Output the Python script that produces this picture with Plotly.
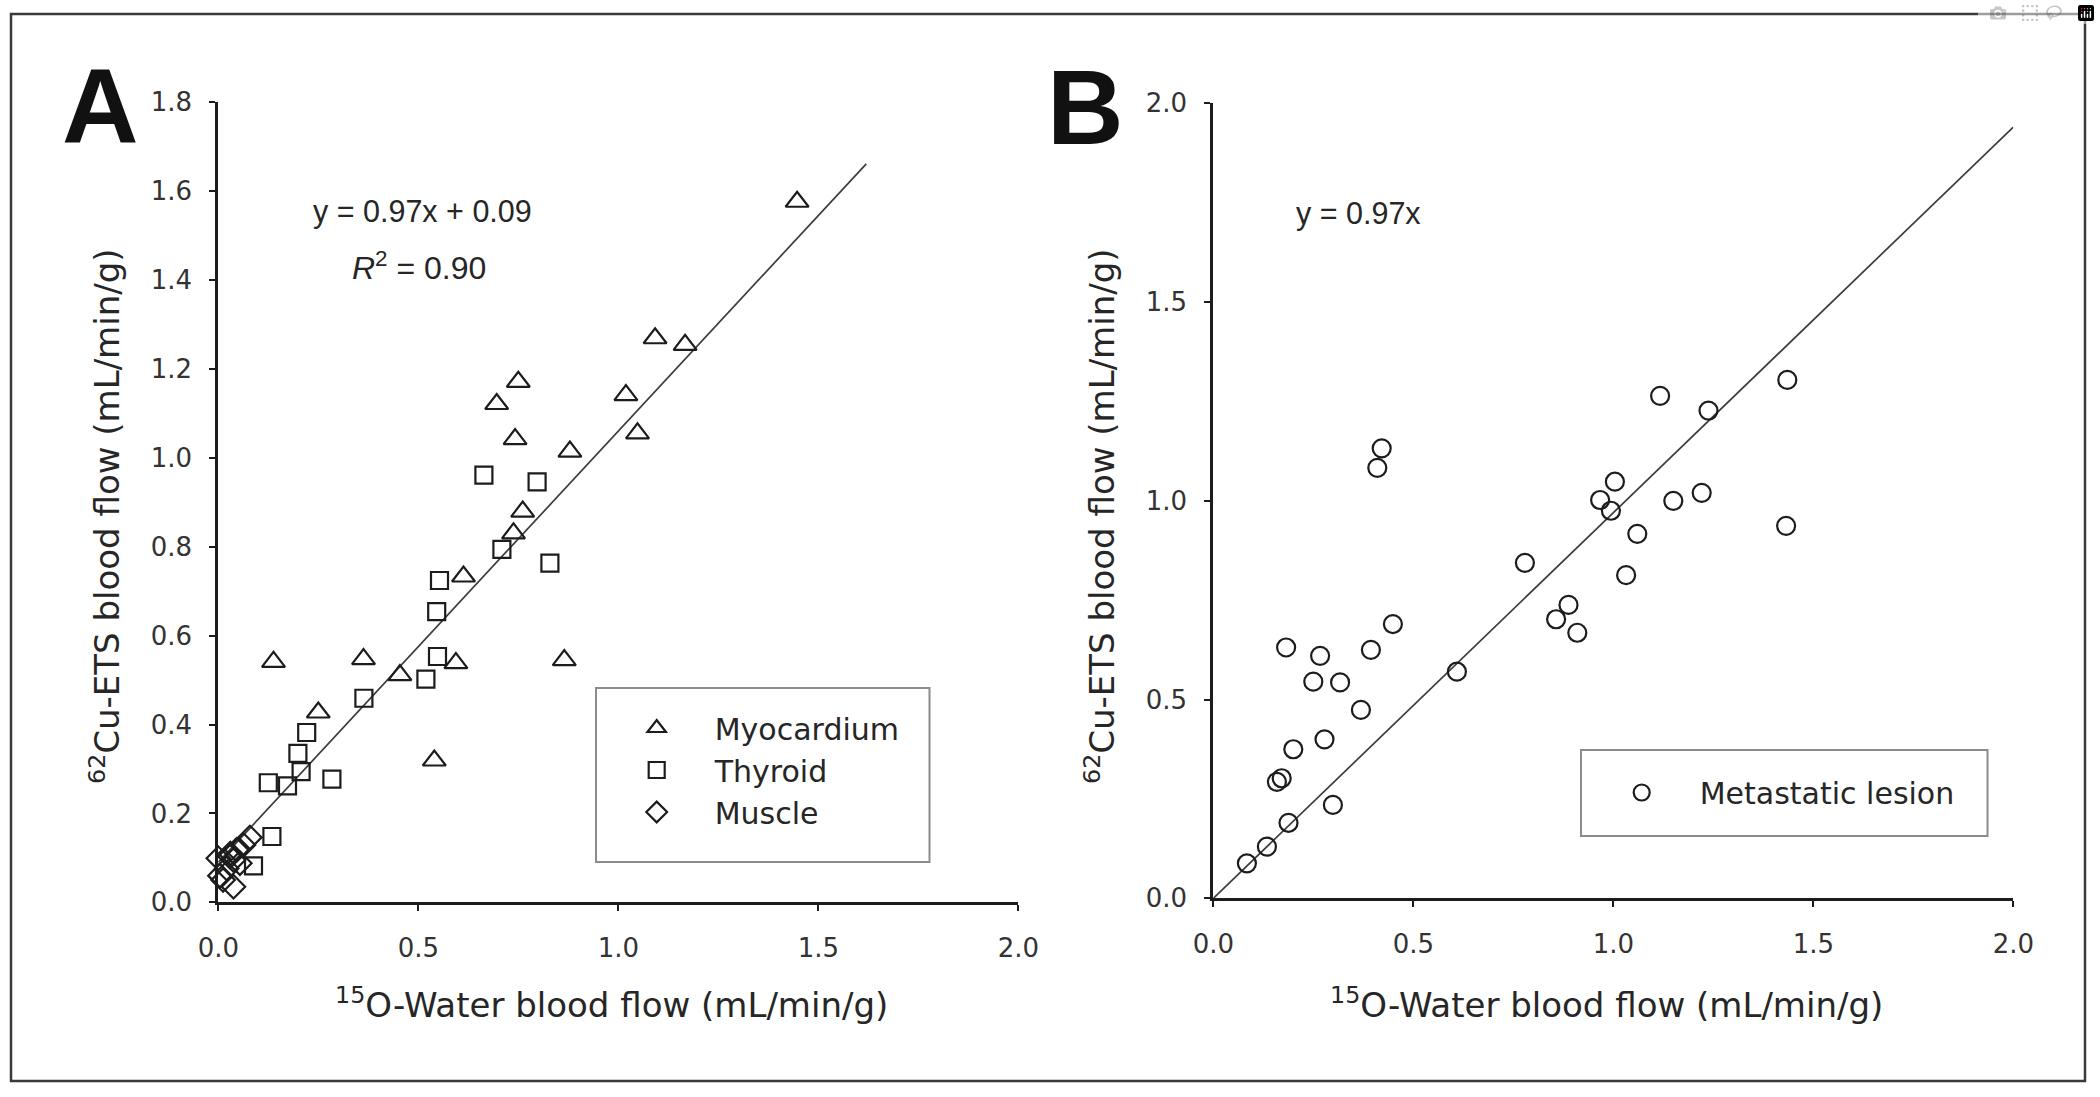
import plotly.graph_objects as go

W, H = 2100, 1097

# ---------------- Data ----------------
# Panel A
myo_x = [1.447, 1.092, 1.167, 0.750, 0.696, 1.019, 0.742, 1.048, 0.879, 0.761,
         0.738, 0.613, 0.138, 0.363, 0.454, 0.594, 0.865, 0.250, 0.540]
myo_y = [1.576, 1.269, 1.254, 1.171, 1.121, 1.141, 1.042, 1.055, 1.014, 0.879,
         0.830, 0.733, 0.541, 0.547, 0.511, 0.538, 0.545, 0.427, 0.319]

thy_x = [0.664, 0.797, 0.709, 0.829, 0.553, 0.546, 0.548, 0.519, 0.364, 0.221,
         0.199, 0.207, 0.125, 0.173, 0.284, 0.134, 0.088]
thy_y = [0.961, 0.946, 0.794, 0.763, 0.724, 0.654, 0.553, 0.502, 0.459, 0.382,
         0.335, 0.294, 0.269, 0.262, 0.277, 0.148, 0.082]

mus_x = [0.000, 0.029, 0.046, 0.063, 0.079, 0.038, 0.004, 0.021, 0.054, 0.038, 0.012, 0.030]
mus_y = [0.099, 0.103, 0.118, 0.129, 0.146, 0.095, 0.060, 0.076, 0.088, 0.035, 0.050, 0.110]

fitA_slope, fitA_intercept = 0.97, 0.09
fitA_x = [0.0, 1.62]

# Panel B
met_x = [0.084, 0.134, 0.188, 0.299, 0.159, 0.171, 0.200, 0.278, 0.369, 0.250,
         0.317, 0.182, 0.267, 0.394, 0.449, 0.609, 0.410, 0.421, 0.779, 0.857,
         0.888, 0.910, 0.967, 0.994, 1.004, 1.032, 1.060, 1.117, 1.150, 1.221,
         1.238, 1.435, 1.432]
met_y = [0.088, 0.130, 0.190, 0.235, 0.293, 0.302, 0.375, 0.400, 0.474, 0.545,
         0.543, 0.631, 0.610, 0.625, 0.690, 0.570, 1.083, 1.132, 0.844, 0.702,
         0.738, 0.668, 1.002, 0.975, 1.048, 0.813, 0.917, 1.264, 1.000, 1.020,
         1.227, 1.304, 0.937]

fitB_slope = 0.97
fitB_x = [0.0, 2.0]

xA_ticks = [0.0, 0.5, 1.0, 1.5, 2.0]
yA_ticks = [0.0, 0.2, 0.4, 0.6, 0.8, 1.0, 1.2, 1.4, 1.6, 1.8]
xB_ticks = [0.0, 0.5, 1.0, 1.5, 2.0]
yB_ticks = [0.0, 0.5, 1.0, 1.5, 2.0]

x_title = "<sup>15</sup>O-Water blood flow (mL/min/g)"
y_title = "<sup>62</sup>Cu-ETS blood flow (mL/min/g)"

# ---------------- Styles ----------------
INK = "#1c1c1c"
TXT = "#262626"
TICK_FONT = dict(family="DejaVu Sans", size=26, color="#333333")
TITLE_FONT = dict(family="DejaVu Sans", size=34, color=TXT)
LEG_FONT = dict(family="DejaVu Sans", size=30, color=TXT)
EQ_FONT = dict(family="Liberation Sans, Arial", size=30.5, color=TXT)
R2_FONT = dict(family="Liberation Sans, Arial", size=32, color=TXT)


def px(x):
    return x / W


def py(y):
    return 1 - y / H


fig = go.Figure()

# regression lines
fig.add_trace(go.Scatter(x=fitA_x, y=[fitA_slope * v + fitA_intercept for v in fitA_x],
                         mode="lines", line=dict(color="#3c3c3c", width=1.7),
                         showlegend=False, hoverinfo="skip", xaxis="x", yaxis="y"))
fig.add_trace(go.Scatter(x=fitB_x, y=[fitB_slope * v for v in fitB_x],
                         mode="lines", line=dict(color="#3c3c3c", width=1.7),
                         showlegend=False, hoverinfo="skip", xaxis="x2", yaxis="y2"))


def mk(symbol, size):
    return dict(symbol=symbol, size=size, color=INK, line=dict(color=INK, width=2.2))


fig.add_trace(go.Scatter(x=myo_x, y=myo_y, mode="markers", name="Myocardium",
                         marker=mk("triangle-up-open", 20), cliponaxis=False,
                         xaxis="x", yaxis="y", legend="legend", legendgroup="a"))
fig.add_trace(go.Scatter(x=thy_x, y=thy_y, mode="markers", name="Thyroid",
                         marker=mk("square-open", 17), cliponaxis=False,
                         xaxis="x", yaxis="y", legend="legend", legendgroup="b"))
fig.add_trace(go.Scatter(x=mus_x, y=mus_y, mode="markers", name="Muscle",
                         marker=mk("diamond-open", 18), cliponaxis=False,
                         xaxis="x", yaxis="y", legend="legend", legendgroup="c"))
fig.add_trace(go.Scatter(x=met_x, y=met_y, mode="markers", name="Metastatic lesion",
                         marker=mk("circle-open", 18), cliponaxis=False,
                         xaxis="x2", yaxis="y2", legend="legend2"))

# axis pixel geometry
A_x0, A_x1, A_y0, A_y1 = 218.3, 1018.3, 902.3, 102.2
B_x0, B_x1, B_y0, B_y1 = 1213.3, 2013.3, 898.3, 103.3

common = dict(showline=True, linecolor=INK, linewidth=3, ticks="outside", ticklen=6,
              tickwidth=2, tickcolor=INK, showgrid=False, zeroline=False,
              tickfont=TICK_FONT, tickformat=".1f", fixedrange=True, automargin=False)

fig.update_layout(
    width=W, height=H,
    margin=dict(l=0, r=0, t=0, b=0, pad=0, autoexpand=False),
    paper_bgcolor="white", plot_bgcolor="rgba(0,0,0,0)",
    xaxis=dict(domain=[px(A_x0), px(A_x1)], range=[0, 2], tickvals=xA_ticks,
               anchor="y", ticklabelstandoff=14, **common),
    yaxis=dict(domain=[py(A_y0), py(A_y1)], range=[0, 1.8], tickvals=yA_ticks,
               anchor="x", ticklabelstandoff=12, **common),
    xaxis2=dict(domain=[px(B_x0), px(B_x1)], range=[0, 2], tickvals=xB_ticks,
                anchor="y2", ticklabelstandoff=14, **common),
    yaxis2=dict(domain=[py(B_y0), py(B_y1)], range=[0, 2], tickvals=yB_ticks,
                anchor="x2", ticklabelstandoff=12, **common),
    legend=dict(x=px(598.7), y=py(702), xanchor="left", yanchor="top",
                bgcolor="rgba(0,0,0,0)", borderwidth=0, font=LEG_FONT,
                itemwidth=106, tracegroupgap=9, traceorder="normal"),
    legend2=dict(x=px(1583.7), y=py(766.5), xanchor="left", yanchor="top",
                 bgcolor="rgba(0,0,0,0)", borderwidth=0, font=LEG_FONT,
                 itemwidth=106),
    showlegend=True,
)

shapes = [
    # outer frame
    dict(type="rect", xref="paper", yref="paper", x0=px(11), x1=px(2085), y0=py(1081), y1=py(14),
         line=dict(color="#3a3a3a", width=2.5), layer="below"),
    # legend boxes
    dict(type="rect", xref="paper", yref="paper", x0=px(596), x1=px(929.5), y0=py(862), y1=py(688),
         line=dict(color="#8c8c8c", width=2), layer="below"),
    dict(type="rect", xref="paper", yref="paper", x0=px(1581), x1=px(1987.5), y0=py(836), y1=py(750),
         line=dict(color="#8c8c8c", width=2), layer="below"),
]
fig.update_layout(shapes=shapes)

ann = []
# panel letters
ann.append(dict(text="<b>A</b>", x=px(100.5), y=py(106), xref="paper", yref="paper",
                xanchor="center", yanchor="middle", showarrow=False,
                font=dict(family="Liberation Sans Narrow, Liberation Sans, Arial", size=106, color="#111111")))
ann.append(dict(text="<b>B</b>", x=px(1085), y=py(107), xref="paper", yref="paper",
                xanchor="center", yanchor="middle", showarrow=False,
                font=dict(family="Liberation Sans Narrow, Liberation Sans, Arial", size=106, color="#111111")))
# equations
ann.append(dict(text="y = 0.97x + 0.09", x=px(311), y=py(211), xref="paper", yref="paper",
                xanchor="left", yanchor="middle", showarrow=False, font=EQ_FONT))
ann.append(dict(text="<i>R</i><sup>2</sup> = 0.90", x=px(350), y=py(266), xref="paper", yref="paper",
                xanchor="left", yanchor="middle", showarrow=False, font=R2_FONT))
ann.append(dict(text="y = 0.97x", x=px(1294), y=py(213), xref="paper", yref="paper",
                xanchor="left", yanchor="middle", showarrow=False, font=EQ_FONT))
# axis titles
ann.append(dict(text=x_title, x=px(611), y=py(1003), xref="paper", yref="paper",
                xanchor="center", yanchor="middle", showarrow=False, font=TITLE_FONT))
ann.append(dict(text=x_title, x=px(1606), y=py(1003), xref="paper", yref="paper",
                xanchor="center", yanchor="middle", showarrow=False, font=TITLE_FONT))
ann.append(dict(text=y_title, x=px(105), y=py(516), xref="paper", yref="paper",
                xanchor="center", yanchor="middle", showarrow=False, textangle=-90, font=TITLE_FONT))
ann.append(dict(text=y_title, x=px(1100), y=py(516), xref="paper", yref="paper",
                xanchor="center", yanchor="middle", showarrow=False, textangle=-90, font=TITLE_FONT))
fig.update_layout(annotations=ann)

fig.write_html("out.html", post_script="document.body.style.margin='0';")
